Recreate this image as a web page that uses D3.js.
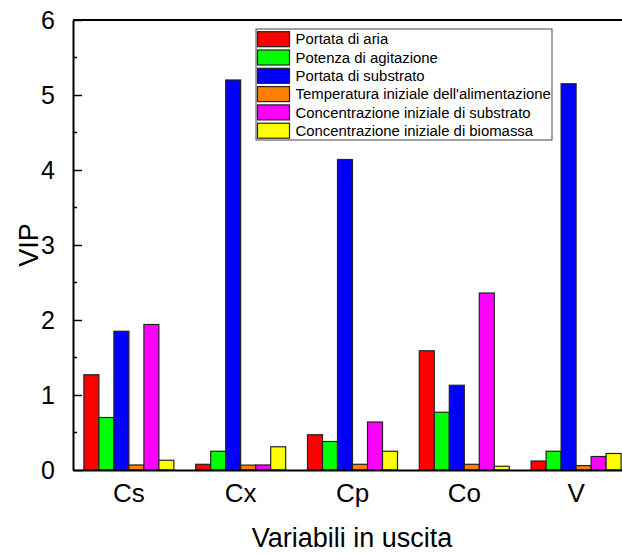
<!DOCTYPE html>
<html>
<head>
<meta charset="utf-8">
<script src="https://cdn.jsdelivr.net/npm/d3@7"></script>
<style>
  body { margin: 0; background: white; }
  svg { display: block; font-family: "Liberation Sans", Arial, sans-serif; }
</style>
</head>
<body>
<script>
var categories = ["Cs", "Cx", "Cp", "Co", "V"];
var seriesNames = [
  "Portata di aria",
  "Potenza di agitazione",
  "Portata di substrato",
  "Temperatura iniziale dell'alimentazione",
  "Concentrazione iniziale di substrato",
  "Concentrazione iniziale di biomassa"
];
var seriesColors = ["#ff0000", "#00ff00", "#0000ff", "#ff8000", "#ff00ff", "#ffff00"];

// one array per series, values for Cs, Cx, Cp, Co, V
var portataAria      = [1.27, 0.076, 0.47, 1.59, 0.12];
var potenzaAgit      = [0.70, 0.25, 0.38, 0.77, 0.25];
var portataSubstrato = [1.85, 5.20, 4.14, 1.13, 5.15];
var temperatura      = [0.067, 0.065, 0.076, 0.076, 0.058];
var concSubstrato    = [1.94, 0.067, 0.64, 2.36, 0.18];
var concBiomassa     = [0.13, 0.31, 0.25, 0.05, 0.22];
var series = [portataAria, potenzaAgit, portataSubstrato, temperatura, concSubstrato, concBiomassa];

var yTicks = [0, 1, 2, 3, 4, 5, 6];

var width = 622, height = 554;
var mLeft = 73, mTop = 20, mBottom = 470, mRight = 632;

var svg = d3.select("body").append("svg")
    .attr("width", width)
    .attr("height", height);

var x = d3.scaleBand()
    .domain(categories)
    .range([mLeft, mRight])
    .paddingInner(0.195)
    .paddingOuter(0.0975);

var xs = d3.scaleBand()
    .domain(d3.range(series.length))
    .range([0, x.bandwidth()]);

var y = d3.scaleLinear()
    .domain([0, 6])
    .range([mBottom, mTop]);

// bars
var groups = svg.append("g")
  .selectAll("g")
  .data(categories)
  .enter().append("g")
    .attr("transform", function(d) { return "translate(" + x(d) + ",0)"; });

groups.selectAll("rect")
  .data(function(d, i) { return series.map(function(s, k) { return { k: k, v: s[i] }; }); })
  .enter().append("rect")
    .attr("x", function(d) { return xs(d.k); })
    .attr("width", xs.bandwidth())
    .attr("y", function(d) { return y(d.v); })
    .attr("height", function(d) { return y(0) - y(d.v); })
    .style("fill", function(d) { return seriesColors[d.k]; })
    .style("stroke", "#222")
    .style("stroke-width", 1.2);

// y axis, ticks inside
var yAxis = d3.axisLeft(y)
    .tickValues(yTicks)
    .tickSizeInner(-9)
    .tickSizeOuter(0)
    .tickPadding(18)
    .tickFormat(d3.format("d"));

var gy = svg.append("g")
    .attr("transform", "translate(" + mLeft + ",0)")
    .call(yAxis);
gy.select(".domain").attr("stroke", "#000").attr("stroke-width", 2);
gy.selectAll(".tick line").attr("stroke-width", 1.5);
gy.selectAll(".tick text")
    .style("font-size", "25px")
    .attr("fill", "#000");

// minor ticks
svg.append("g")
  .selectAll("line")
  .data(d3.range(0.5, 6, 1))
  .enter().append("line")
    .attr("x1", mLeft).attr("x2", mLeft + 4)
    .attr("y1", function(d) { return y(d); })
    .attr("y2", function(d) { return y(d); })
    .attr("stroke", "#000")
    .attr("stroke-width", 1.5);

// x axis
var xAxis = d3.axisBottom(x).tickSize(0).tickPadding(14);
var gx = svg.append("g")
    .attr("transform", "translate(0," + mBottom + ")")
    .call(xAxis);
gx.select(".domain").attr("stroke", "#000").attr("stroke-width", 2);
gx.selectAll(".tick text")
    .style("font-size", "26px")
    .attr("fill", "#000");

// top frame line
svg.append("line")
    .attr("x1", mLeft).attr("x2", mRight)
    .attr("y1", mTop).attr("y2", mTop)
    .attr("stroke", "#000")
    .attr("stroke-width", 2);

// axis titles
svg.append("text")
    .attr("transform", "translate(38," + y(3) + ") rotate(-90)")
    .attr("text-anchor", "middle")
    .style("font-size", "27px")
    .text("VIP");

svg.append("text")
    .attr("x", 352)
    .attr("y", 547)
    .attr("text-anchor", "middle")
    .style("font-size", "27px")
    .text("Variabili in uscita");

// legend
var legend = svg.append("g").attr("transform", "translate(256,29)");
legend.append("rect")
    .attr("width", 296)
    .attr("height", 111)
    .style("fill", "white")
    .style("stroke", "#444")
    .style("stroke-width", 1);

var rows = legend.selectAll("g.row")
  .data(seriesNames)
  .enter().append("g")
    .attr("class", "row")
    .attr("transform", function(d, i) { return "translate(0," + (2.7 + i * 18.3) + ")"; });

rows.append("rect")
    .attr("x", 1.5).attr("width", 32).attr("height", 15)
    .style("fill", function(d, i) { return seriesColors[i]; })
    .style("stroke", "#222")
    .style("stroke-width", 1.2);

rows.append("text")
    .attr("x", 39.5)
    .attr("y", 7.5)
    .attr("dy", "0.35em")
    .style("font-size", "14.9px")
    .text(function(d) { return d; });
</script>
</body>
</html>
